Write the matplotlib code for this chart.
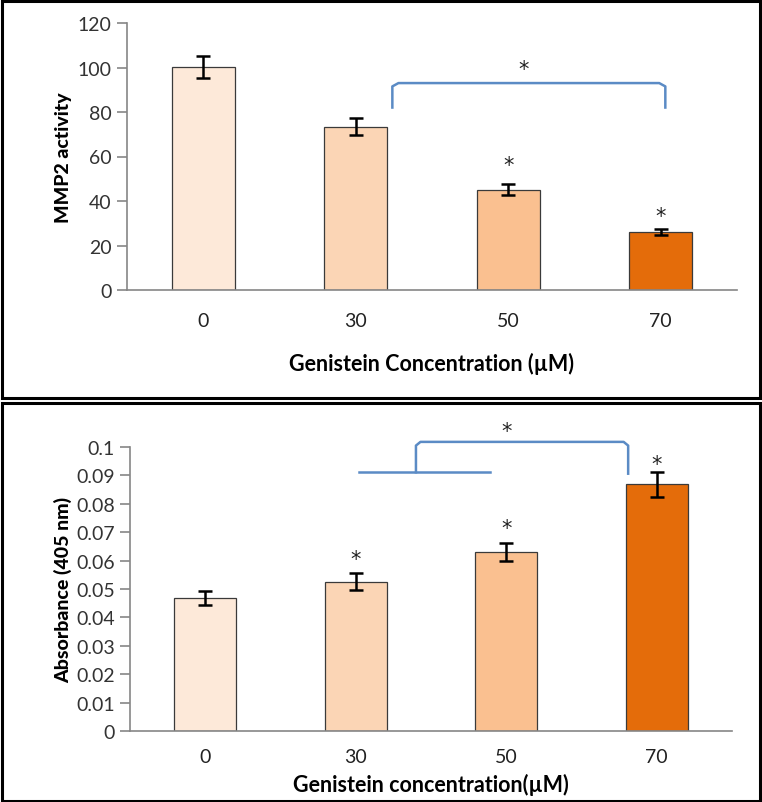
import numpy as np
import matplotlib.pyplot as plt
from matplotlib.patches import Rectangle

plt.rcParams['font.family'] = ['Lato', 'DejaVu Sans']

# data
conc = ['0', '30', '50', '70']
bar_colors = ['#FDE9D9', '#FBD5B5', '#FAC090', '#E46C0A']

mmp2 = [100.2, 73.4, 45.1, 26.2]
mmp2_err = [5.0, 3.8, 2.4, 1.4]
mmp2_star = [None, None, 56.3, 33.4]

absorb = [0.0467, 0.0526, 0.0629, 0.0868]
absorb_err = [0.0025, 0.0029, 0.0032, 0.0044]
absorb_star = [None, 0.0607, 0.0715, 0.0941]

W, H = 762, 803
fig = plt.figure(figsize=(W / 100, H / 100), dpi=100)

# panel frames
fig.patches.append(Rectangle((1.5 / W, 1 - 399 / H), 758 / W, 397.5 / H, transform=fig.transFigure,
                             fill=False, edgecolor='black', linewidth=2.2))
fig.patches.append(Rectangle((1.5 / W, 1 - 801.5 / H), 758 / W, 398 / H, transform=fig.transFigure,
                             fill=False, edgecolor='black', linewidth=2.2))

axis_grey = '#868686'
blue = '#5B8BC5'
star_font = dict(ha='center', va='center', fontsize=15, color='#222222', family='DejaVu Sans')


def style(ax):
    for s in ['top', 'right']:
        ax.spines[s].set_visible(False)
    for s in ['left', 'bottom']:
        ax.spines[s].set_color(axis_grey)
        ax.spines[s].set_linewidth(1.2)
    ax.tick_params(axis='y', colors=axis_grey, length=7, width=1.2, labelcolor='#333333', labelsize=14, pad=4)
    ax.tick_params(axis='x', length=0, labelcolor='#222222', labelsize=14)
    ax.set_xlim(-0.5, 3.5)


x = np.arange(len(conc))

# top panel
ax1 = fig.add_axes([127 / W, 1 - 291 / H, 610 / W, 267 / H])
ax1.bar(x, mmp2, width=0.41, color=bar_colors, edgecolor='#3a3a3a', linewidth=0.9)
ax1.errorbar(x, mmp2, yerr=mmp2_err, fmt='none', ecolor='black', elinewidth=1.8, capsize=5, capthick=1.8)
ax1.set_ylim(0, 120)
ax1.set_yticks(np.arange(0, 121, 20))
ax1.set_xticks(x)
ax1.set_xticklabels(conc)
ax1.tick_params(axis='x', pad=16)
style(ax1)
ax1.set_ylabel('MMP2 activity', fontsize=14, fontweight='black', labelpad=4)
ax1.set_xlabel('Genistein Concentration (µM)', fontsize=15.5, fontweight='bold', labelpad=16)
for i, s in enumerate(mmp2_star):
    if s is not None:
        ax1.text(x[i], s, '*', **star_font)
ax1.plot([1.24, 1.24, 1.28, 2.99, 3.03, 3.03], [82, 91.5, 93, 93, 91.5, 82],
         color=blue, linewidth=1.8, clip_on=False, solid_joinstyle='round')
ax1.text(2.10, 99.3, '*', **star_font)

# bottom panel
ax2 = fig.add_axes([130 / W, 1 - 732 / H, 602 / W, 284 / H])
ax2.bar(x, absorb, width=0.41, color=bar_colors, edgecolor='#3a3a3a', linewidth=0.9)
ax2.errorbar(x, absorb, yerr=absorb_err, fmt='none', ecolor='black', elinewidth=1.8, capsize=5, capthick=1.8)
ax2.set_ylim(0, 0.1)
ax2.set_yticks(np.arange(0, 0.101, 0.01))
ax2.set_yticklabels(['0', '0.01', '0.02', '0.03', '0.04', '0.05', '0.06', '0.07', '0.08', '0.09', '0.1'])
ax2.set_xticks(x)
ax2.set_xticklabels(conc)
ax2.tick_params(axis='x', pad=12)
style(ax2)
ax2.set_ylabel('Absorbance (405 nm)', fontsize=14, fontweight='black', labelpad=3)
ax2.set_xlabel('Genistein concentration(µM)', fontsize=15.5, fontweight='bold', labelpad=6)
for i, s in enumerate(absorb_star):
    if s is not None:
        ax2.text(x[i], s, '*', **star_font)
ax2.plot([1.02, 1.89], [0.0911, 0.0911], color=blue, linewidth=1.8, clip_on=False)
ax2.plot([1.40, 1.40, 1.43, 2.78, 2.81, 2.81], [0.0911, 0.1005, 0.1018, 0.1018, 0.1005, 0.0906],
         color=blue, linewidth=1.8, clip_on=False, solid_joinstyle='round')
ax2.text(2.0, 0.1055, '*', **star_font)

fig.savefig('out.png', dpi=100)
